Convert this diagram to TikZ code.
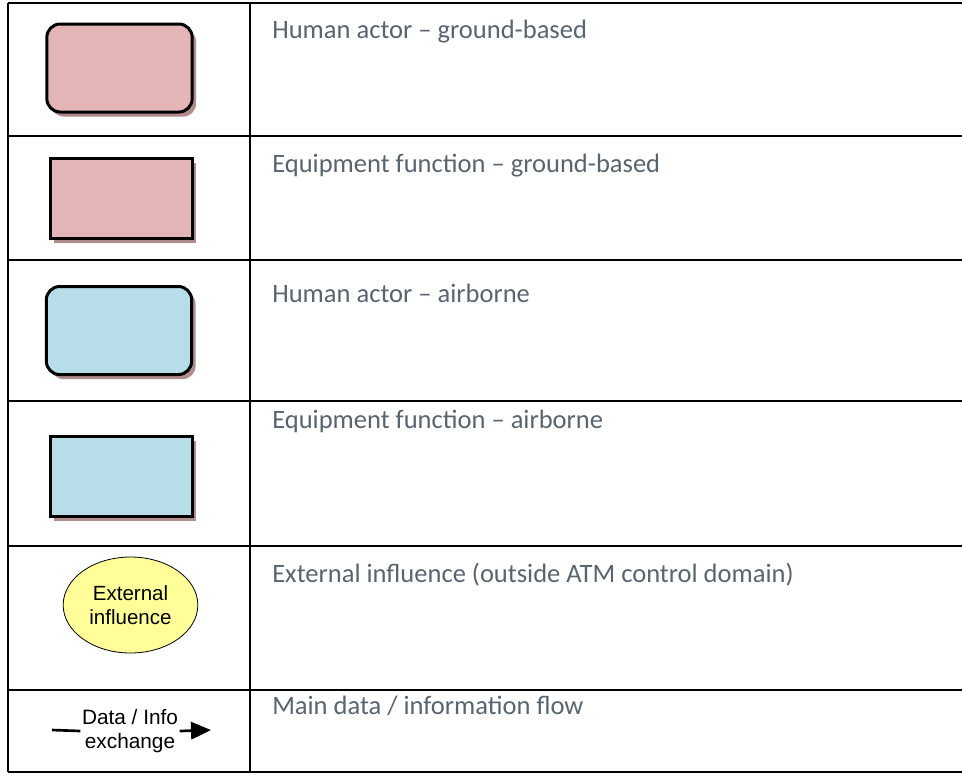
\documentclass[tikz,border=0pt]{standalone}
\usepackage{fontspec}
\setmainfont{Carlito}
\newfontfamily\arialfont{Liberation Sans}
\usetikzlibrary{shapes.geometric,shadows,arrows.meta}
\definecolor{groundpink}{RGB}{228,181,182}
\definecolor{airblue}{RGB}{183,222,232}
\definecolor{extyellow}{RGB}{255,255,153}
\definecolor{shadowbrown}{RGB}{176,140,140}
\definecolor{legendgray}{RGB}{89,100,110}
\begin{document}
\begin{tikzpicture}[x=0.75pt,y=-0.75pt]
\tikzset{
  actor/.style={draw, line width=2.25pt, rounded corners=10pt, minimum width=109pt, minimum height=66pt,
    drop shadow={shadow xshift=3pt, shadow yshift=-3.5pt, fill=shadowbrown, opacity=1}},
  equip/.style={draw, line width=2.25pt, minimum width=106.5pt, minimum height=60pt,
    drop shadow={shadow xshift=3pt, shadow yshift=-3.5pt, fill=shadowbrown, opacity=1}},
  extern/.style={ellipse, draw, line width=0.6pt, fill=extyellow, minimum width=101pt, minimum height=72pt,
    inner sep=0pt, align=center, font=\arialfont\fontsize{15.4}{18}\selectfont},
  desc/.style={anchor=base west, inner sep=0pt, text=legendgray, font=\fontsize{19.9}{23}\selectfont},
  grid/.style={line width=1.8pt}
}
\useasboundingbox (0,0) rectangle (962,776);

\draw[grid] (8,3) -- (962,3);
\draw[grid] (8,136) -- (962,136);
\draw[grid] (8,260) -- (962,260);
\draw[grid] (8,401) -- (962,401);
\draw[grid] (8,546) -- (962,546);
\draw[grid] (8,690) -- (962,690);
\draw[grid] (8,772) -- (962,772);
\draw[grid] (8,3) -- (8,772);
\draw[grid] (250,3) -- (250,772);

\node[actor, fill=groundpink] (hum_ground) at (119.5,68) {};
\node[equip, fill=groundpink] (eq_ground) at (121,198.5) {};
\node[actor, fill=airblue] (hum_air) at (119,330.5) {};
\node[equip, fill=airblue] (eq_air) at (121,476) {};
\node[extern] (ext_infl) at (130.5,605) {External\\influence};

\coordinate (flow_start) at (52,730);
\node[inner sep=1pt, align=center, font=\arialfont\fontsize{15.6}{18.5}\selectfont] (flow_lbl) at (130,731) {Data / Info\\exchange};
\coordinate (flow_end) at (211,730);
\draw[line width=2pt] (flow_start) -- (flow_lbl.west);
\draw[line width=2pt, -{Triangle[length=15pt,width=13pt]}] (flow_lbl.east) -- (flow_end);

\node[desc] (txt_hum_ground) at (272,38) {Human actor – ground-based};
\node[desc] (txt_eq_ground) at (272,172) {Equipment function – ground-based};
\node[desc] (txt_hum_air) at (272,302) {Human actor – airborne};
\node[desc] (txt_eq_air) at (272,428) {Equipment function – airborne};
\node[desc] (txt_ext) at (272,582) {External influence (outside ATM control domain)};
\node[desc] (txt_flow) at (272,714) {Main data / information flow};
\end{tikzpicture}
\end{document}
